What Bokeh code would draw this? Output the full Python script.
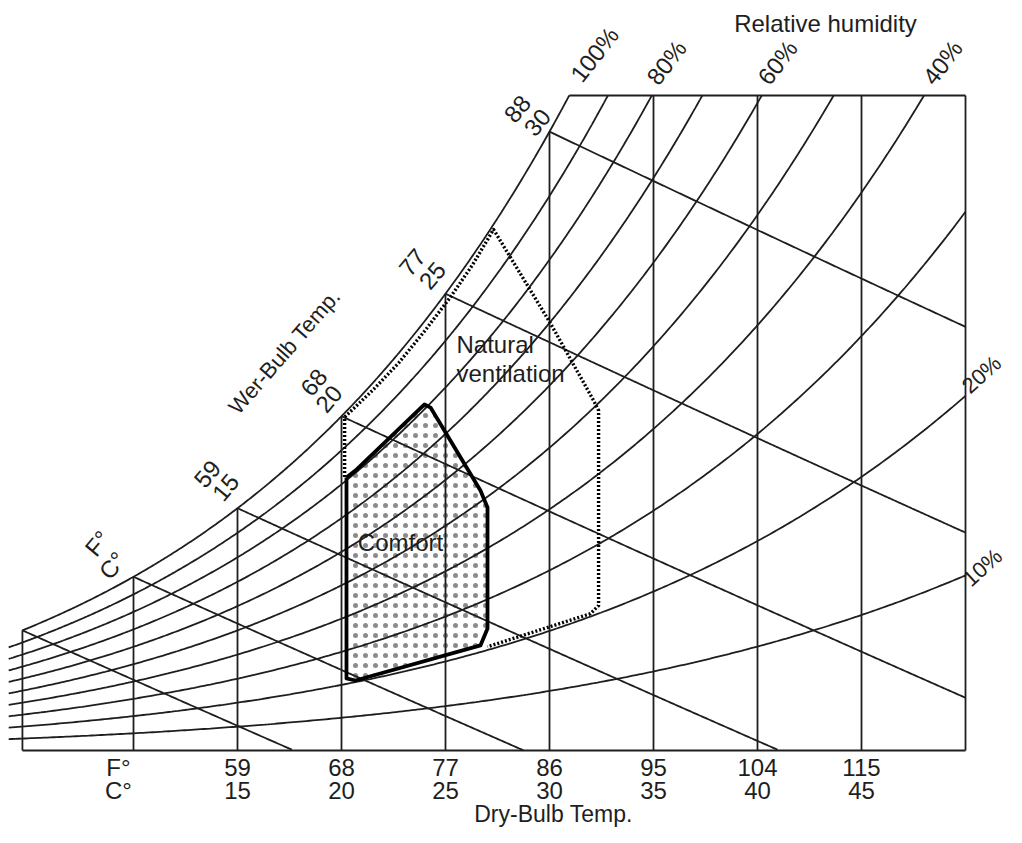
import numpy as np
from bokeh.plotting import figure
from bokeh.models import Range1d, Label
from bokeh.embed import file_html
from bokeh.resources import INLINE

# ---------------- data ----------------
P_ATM = 101.325  # kPa
RH_LEVELS = [100, 90, 80, 70, 60, 50, 40, 30, 20, 10]          # %
DRY_BULB_C = [10, 15, 20, 25, 30, 35, 40, 45]
DRY_BULB_C_LABELS = ["15", "20", "25", "30", "35", "40", "45"]
DRY_BULB_F_LABELS = ["59", "68", "77", "86", "95", "104", "115"]
WET_BULB_C = [10, 15, 20, 25, 30]
WET_BULB_C_LABELS = ["15", "20", "25", "30"]
WET_BULB_F_LABELS = ["59", "68", "77", "88"]
RH_TOP_LABELS = ["100%", "80%", "60%", "40%"]
RH_SIDE_LABELS = ["20%", "10%"]

T_LEFT = 4.66       # left edge line of the chart (deg C)
T_CURVE_START = 4.0 # RH curves stick out slightly to the left
T_RIGHT = 50.0
W_TOP = 28.73       # g/kg, top border

COMFORT_T = [20.24, 20.24, 20.67, 26.68, 27.02, 27.02, 26.68, 24.28, 23.99, 20.67, 20.24]
COMFORT_W = [11.97, 3.16, 3.07, 4.61, 5.35, 10.66, 11.40, 15.04, 15.18, 12.28, 11.97]

VENT_T = [20.15, 20.15, 21.5, 22.75, 24.0, 25.25, 26.3, 27.31, 30.05, 32.12, 32.36, 32.36, 31.97, 27.02]
VENT_W = [12.0, 14.62, 15.8, 17.0, 18.4, 19.9, 21.3, 22.85, 18.73, 15.35, 14.91, 6.36, 6.0, 4.55]

# ---------------- psychrometrics ----------------
def p_sat(t):
    return 0.61094 * np.exp(17.625 * t / (t + 243.04))

def w_rh(t, rh):
    pw = rh / 100.0 * p_sat(t)
    return 1000.0 * 0.622 * pw / (P_ATM - pw)

def w_wb(t, twb):
    ws = w_rh(twb, 100) / 1000.0
    w = ((2501 - 2.326 * twb) * ws - 1.006 * (t - twb)) / (2501 + 1.86 * t - 4.186 * twb)
    return 1000.0 * w

def t_at_top(rh):
    lo, hi = 0.0, 80.0
    for _ in range(60):
        mid = 0.5 * (lo + hi)
        if w_rh(mid, rh) > W_TOP:
            hi = mid
        else:
            lo = mid
    return 0.5 * (lo + hi)

# pixel -> data helpers (for placing text only)
def X(px):
    return 10 + (px - 133) / 20.8

def Y(py):
    return (750 - py) / 22.8

INK = "#1e1e1e"
FONT = "Liberation Sans"
LW = 1.8

W_PX, H_PX = 1006, 827
p = figure(width=W_PX, height=H_PX, output_backend="svg", toolbar_location=None,
           x_range=Range1d(X(0), X(W_PX)), y_range=Range1d(Y(H_PX), Y(0)),
           min_border=0, title=None)
p.axis.visible = False
p.grid.visible = False
p.outline_line_color = None
p.background_fill_color = "white"
p.border_fill_color = "white"

# comfort zone stipple (drawn first, under the grid)
p.patch(COMFORT_T, COMFORT_W, fill_color="white", fill_alpha=0.0,
        hatch_pattern=".", hatch_color="#777777", hatch_scale=10, hatch_weight=0.9,
        hatch_alpha=0.85, line_color=None)

# RH curves
for rh in RH_LEVELS:
    t0 = T_LEFT if rh == 100 else T_CURVE_START
    t1 = min(T_RIGHT, t_at_top(rh))
    ts = np.linspace(t0, t1, 300)
    p.line(ts, w_rh(ts, rh), line_color=INK, line_width=LW)

# dry-bulb vertical lines
for t in [T_LEFT] + DRY_BULB_C + [T_RIGHT]:
    top = min(W_TOP, w_rh(t, 100))
    p.line([t, t], [0, top], line_color=INK, line_width=LW)

# base and top border
p.line([T_LEFT, T_RIGHT], [0, 0], line_color=INK, line_width=2.0)
p.line([t_at_top(100), T_RIGHT], [W_TOP, W_TOP], line_color=INK, line_width=2.0)

# wet-bulb lines
for twb in [T_LEFT] + WET_BULB_C:
    ts = np.linspace(twb, T_RIGHT, 400)
    ws = w_wb(ts, twb)
    keep = ws >= 0
    p.line(ts[keep], ws[keep], line_color=INK, line_width=LW)

# comfort zone outline
p.line(COMFORT_T, COMFORT_W, line_color="black", line_width=3.8, line_join="round")

# natural ventilation zone
p.line(VENT_T, VENT_W, line_color="black", line_width=3.4, line_dash="2 2", line_join="round")

def lab(txt, px, py, size=24, angle=0.0, align="center"):
    p.add_layout(Label(x=X(px), y=Y(py), text=txt, text_font=FONT,
                       text_font_size=f"{size}px", text_color=INK,
                       angle=angle, angle_units="deg",
                       text_align=align, text_baseline="middle"))

# top / side RH labels
lab("Relative humidity", 825, 23)
for txt, (px, py) in zip(RH_TOP_LABELS, [(594, 54), (666, 62), (777, 62), (942, 62)]):
    lab(txt, px, py, angle=52)
for txt, (px, py) in zip(RH_SIDE_LABELS, [(981, 374), (982, 567)]):
    lab(txt, px, py, size=22, angle=42)

# wet-bulb labels
wb_pos_f = [(206.7, 473.3), (313.3, 381.7), (411.7, 261.7), (516.7, 108.3)]
wb_pos_c = [(225, 486.7), (328.3, 398.3), (431.7, 275), (536.7, 121.7)]
for txt, (px, py) in zip(WET_BULB_F_LABELS, wb_pos_f):
    lab(txt, px, py, angle=50)
for txt, (px, py) in zip(WET_BULB_C_LABELS, wb_pos_c):
    lab(txt, px, py, angle=50)
lab("F°", 97, 543, angle=50)
lab("C°", 112, 565, angle=50)
lab("Wer-Bulb Temp.", 284, 351, size=22, angle=49)

# zone labels
lab("Natural", 456, 344, align="left")
lab("ventilation", 456, 373, align="left")
lab("Comfort", 400, 542)

# bottom axis labels
lab("F°", 118, 767)
lab("C°", 118, 790)
for t, f, c in zip(DRY_BULB_C[1:], DRY_BULB_F_LABELS, DRY_BULB_C_LABELS):
    p.add_layout(Label(x=t, y=Y(767), text=f, text_font=FONT, text_font_size="24px",
                       text_color=INK, text_align="center", text_baseline="middle"))
    p.add_layout(Label(x=t, y=Y(790), text=c, text_font=FONT, text_font_size="24px",
                       text_color=INK, text_align="center", text_baseline="middle"))
lab("Dry-Bulb Temp.", 553, 813, size=23)

open("out.html", "w").write(file_html(p, INLINE))
